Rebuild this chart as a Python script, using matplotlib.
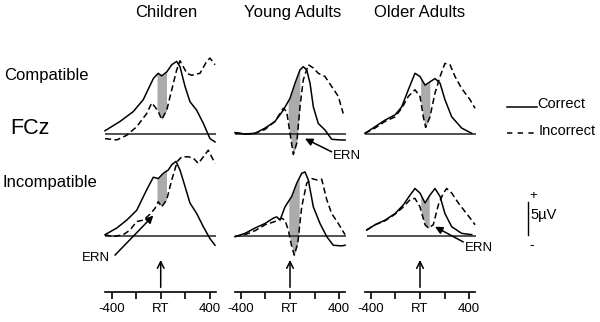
import numpy as np
import matplotlib
matplotlib.use("Agg")
import matplotlib.pyplot as plt
from matplotlib.lines import Line2D

plt.rcParams['font.family'] = ['Liberation Sans', 'DejaVu Sans']

# ---------------- data (ms relative to response, µV) ----------------
groups = ["Children", "Young Adults", "Older Adults"]
conditions = ["Compatible", "Incompatible"]
tick_values = [-400, -200, 0, 200, 400]
tick_labels = ["-400", "", "RT", "", "400"]

# Children, compatible
ch_comp_t_cor = [-453, -331, -223, -142, -60, -20, 8, 49, 90, 130, 157, 198, 238, 293, 347, 401, 442]
ch_comp_v_cor = [0.5, 1.9, 3.4, 5.2, 8.4, 9.2, 8.8, 9.4, 10.5, 11.0, 10.2, 7.2, 4.9, 3.6, 1.6, -0.7, -1.2]
ch_comp_t_inc = [-453, -358, -277, -195, -114, -73, -46, -20, 8, 49, 90, 130, 157, 184, 212, 252, 320, 374, 401, 442]
ch_comp_v_inc = [-0.7, -0.9, -0.2, 1.1, 3.1, 4.7, 4.1, 3.4, 2.2, 3.6, 6.7, 9.7, 11.1, 10.2, 9.2, 8.9, 9.2, 11.0, 11.5, 10.5]

# Young adults, compatible
ya_comp_t_cor = [-448, -366, -285, -203, -122, -55, 0, 41, 81, 108, 136, 163, 190, 230, 285, 339, 407, 448]
ya_comp_v_cor = [0.2, 0.0, 0.1, 0.9, 1.9, 3.6, 5.4, 7.7, 9.7, 10.2, 9.7, 7.7, 4.1, 1.6, 0.6, -0.8, -0.9, -0.9]
ya_comp_t_inc = [-448, -366, -285, -203, -122, -55, -27, 0, 27, 55, 81, 108, 149, 190, 230, 285, 339, 393, 433]
ya_comp_v_inc = [0.2, 0.0, 0.1, 0.7, 1.9, 3.9, 3.4, 0.1, -3.1, -1.4, 4.1, 8.2, 10.5, 10.0, 9.2, 8.7, 7.2, 5.7, 3.1]

# Older adults, compatible
oa_comp_t_cor = [-448, -366, -285, -203, -149, -95, -41, 0, 41, 81, 122, 163, 203, 258, 339, 421]
oa_comp_v_cor = [0.1, 1.1, 2.1, 2.9, 4.1, 6.7, 9.2, 8.7, 7.4, 7.9, 8.4, 7.7, 5.2, 2.6, 0.9, 0.1]
oa_comp_t_inc = [-448, -366, -285, -203, -149, -95, -41, 0, 27, 46, 81, 122, 163, 203, 244, 285, 339, 407, 448]
oa_comp_v_inc = [0.1, 0.9, 1.9, 2.6, 3.9, 5.7, 6.7, 5.7, 2.6, 1.0, 2.6, 6.2, 8.7, 10.7, 10.5, 8.7, 6.9, 5.2, 3.9]

# Children, incompatible
ch_inc_t_cor = [-453, -358, -277, -195, -114, -60, -20, 21, 62, 90, 124, 157, 198, 238, 293, 347, 401, 442]
ch_inc_v_cor = [0.2, 1.2, 2.4, 3.9, 7.0, 8.9, 8.7, 9.5, 10.0, 10.8, 11.3, 10.0, 7.5, 5.0, 3.4, 1.4, -0.4, -1.4]
ch_inc_t_inc = [-453, -386, -304, -250, -195, -142, -87, -46, -20, 8, 49, 90, 135, 171, 225, 265, 306, 347, 387, 442]
ch_inc_v_inc = [0.2, -0.1, 0.2, 0.9, 2.2, 2.4, 3.3, 4.2, 5.2, 4.4, 5.5, 8.5, 11.3, 12.0, 12.0, 11.8, 11.0, 12.0, 13.0, 11.0]

# Young adults, incompatible
ya_inc_t_cor = [-448, -366, -285, -203, -136, -108, -81, -41, 14, 55, 95, 122, 149, 190, 244, 299, 352, 420, 448]
ya_inc_v_cor = [-0.1, 0.4, 1.2, 1.9, 2.7, 2.9, 2.4, 4.4, 6.0, 8.0, 9.5, 9.7, 8.5, 4.4, 1.9, -0.1, -1.4, -1.5, -1.4]
ya_inc_t_inc = [-448, -366, -285, -203, -122, -68, -41, -14, 14, 35, 63, 95, 136, 177, 217, 258, 299, 339, 393, 448]
ya_inc_v_inc = [-0.1, 0.2, 0.8, 1.7, 2.2, 2.7, 2.4, 0.9, -1.6, -2.9, -1.1, 4.4, 8.0, 8.7, 8.5, 8.6, 5.5, 3.4, 1.9, 0.2]

# Older adults, incompatible
oa_inc_t_cor = [-434, -366, -285, -203, -136, -81, -41, 0, 41, 81, 122, 163, 203, 258, 339, 421]
oa_inc_v_cor = [0.9, 1.7, 2.4, 3.4, 4.7, 6.2, 7.2, 6.5, 5.0, 6.2, 7.2, 6.0, 3.4, 1.4, 0.4, 0.2]
oa_inc_t_inc = [-434, -366, -285, -203, -136, -81, -41, 0, 41, 68, 108, 149, 190, 217, 258, 312, 366, 421, 448]
oa_inc_v_inc = [0.9, 1.7, 2.3, 3.3, 4.4, 5.5, 5.7, 4.4, 1.7, 1.2, 1.7, 4.7, 6.5, 7.2, 6.5, 5.0, 3.7, 2.4, 1.7]

# ERN shaded windows (ms) per condition row / group column
shade_start = [[-30, -15, 5], [-30, -10, 5]]
shade_end = [[47, 80, 80], [47, 75, 75]]

panels = [
    [(ch_comp_t_cor, ch_comp_v_cor, ch_comp_t_inc, ch_comp_v_inc),
     (ya_comp_t_cor, ya_comp_v_cor, ya_comp_t_inc, ya_comp_v_inc),
     (oa_comp_t_cor, oa_comp_v_cor, oa_comp_t_inc, oa_comp_v_inc)],
    [(ch_inc_t_cor, ch_inc_v_cor, ch_inc_t_inc, ch_inc_v_inc),
     (ya_inc_t_cor, ya_inc_v_cor, ya_inc_t_inc, ya_inc_v_inc),
     (oa_inc_t_cor, oa_inc_v_cor, oa_inc_t_inc, oa_inc_v_inc)],
]

# ---------------- layout (pixels) ----------------
W, H = 600, 322
fig = plt.figure(figsize=(W / 100, H / 100), dpi=100)
fig.patch.set_facecolor('white')

def box(left, top, width, height):
    return [left / W, 1 - (top + height) / H, width / W, height / H]

px_per_ms = 0.1229
px_per_uv = 6.6
col_zero = [160.7, 290.0, 420.0]
row_base = [134.0, 236.0]
ylo, yhi = -7, 14
xlo, xhi = -500, 500

dash = (0, (4.0, 2.2))
lw = 1.1
axes = [[None] * 3 for _ in range(2)]
for r in range(2):
    for c in range(3):
        left = col_zero[c] + xlo * px_per_ms
        top = row_base[r] - yhi * px_per_uv
        ax = fig.add_axes(box(left, top, (xhi - xlo) * px_per_ms, (yhi - ylo) * px_per_uv))
        ax.set_xlim(xlo, xhi)
        ax.set_ylim(ylo, yhi)
        ax.axis('off')
        ax.patch.set_alpha(0)
        tc, vc, ti, vi = [np.asarray(a, float) for a in panels[r][c]]
        # shaded ERN window between the two curves
        lo, hi = shade_start[r][c], shade_end[r][c]
        g = np.union1d(tc, ti)
        g = np.concatenate([[lo], g[(g > lo) & (g < hi)], [hi]])
        ax.fill_between(g, np.interp(g, tc, vc), np.interp(g, ti, vi),
                        color='#ababab', lw=0, zorder=1)
        tmin = min(tc.min(), ti.min())
        tmax = max(tc.max(), ti.max())
        ax.hlines(0, tmin, tmax + 10, color='#333333', lw=1.2, zorder=2)
        ax.plot(tc, vc, color='black', lw=lw, zorder=3, clip_on=False)
        ax.plot(ti, vi, color='black', lw=lw, ls=dash, zorder=3, clip_on=False)
        axes[r][c] = ax

# ERN arrows
arrow_kw = dict(arrowstyle='-|>', color='black', lw=1.1, mutation_scale=11,
                shrinkA=0, shrinkB=0)
ax = axes[1][0]
ax.annotate('', xy=(-60, 3.1), xytext=(-372, -2.9), arrowprops=arrow_kw, annotation_clip=False)
ax.text(-412, -3.3, 'ERN', ha='right', va='center', fontsize=9.5)
ax = axes[0][1]
ax.annotate('', xy=(122, -0.7), xytext=(339, -2.7), arrowprops=arrow_kw, annotation_clip=False)
ax.text(352, -3.4, 'ERN', ha='left', va='center', fontsize=9.5)
ax = axes[1][2]
ax.annotate('', xy=(122, 1.4), xytext=(352, -0.9), arrowprops=arrow_kw, annotation_clip=False)
ax.text(366, -1.75, 'ERN', ha='left', va='center', fontsize=9.5)

# 5 µV scale bar drawn in data units of the lower-right panel
ax = axes[1][2]
ax.plot([876, 876], [0.15, 5.15], color='black', lw=1.0, clip_on=False)

# time axes
for c in range(3):
    left = col_zero[c] - 450 * px_per_ms
    tax = fig.add_axes(box(left, 250, 900 * px_per_ms, 41.5))
    tax.set_xlim(-450, 450)
    tax.set_ylim(0, 1)
    tax.patch.set_alpha(0)
    for s in ['top', 'left', 'right']:
        tax.spines[s].set_visible(False)
    tax.spines['bottom'].set_linewidth(1.2)
    tax.set_yticks([])
    tax.set_xticks(tick_values)
    tax.set_xticklabels(tick_labels, fontsize=9.5)
    tax.tick_params(axis='x', direction='out', length=5, width=1.2, pad=3)
    tax.annotate('', xy=(0, 0.76), xytext=(0, 0.1),
                 arrowprops=dict(arrowstyle='->', color='black', lw=1.1,
                                 mutation_scale=12, shrinkA=0, shrinkB=0))

# texts
def ftext(x, y, s, **kw):
    fig.text(x / W, 1 - y / H, s, **kw)

title_x = [166, 293, 420]
for name, x in zip(groups, title_x):
    ftext(x, 12.5, name, ha='center', va='center', fontsize=12)
ftext(4, 75, conditions[0], ha='left', va='center', fontsize=12)
ftext(3, 183, conditions[1], ha='left', va='center', fontsize=12)
ftext(10, 129, 'FCz', ha='left', va='center', fontsize=15.5)

# legend
fig.add_artist(Line2D([506.7 / W, 536.5 / W], [1 - 106.7 / H] * 2, color='black', lw=1.1))
fig.add_artist(Line2D([506.7 / W, 534 / W], [1 - 133.3 / H] * 2, color='black', lw=1.1,
                      ls=(0, (3.5, 3.5))))
ftext(537.5, 107.5, 'Correct', ha='left', va='baseline', fontsize=10.5)
ftext(538.5, 135.5, 'Incorrect', ha='left', va='baseline', fontsize=10.5)

# scale bar labels
ftext(533.3, 195.5, '+', ha='center', va='center', fontsize=9.5)
ftext(530.5, 215, '5µV', ha='left', va='center', fontsize=10.5)
ftext(531.7, 245, '-', ha='center', va='center', fontsize=10)

fig.savefig('out.png', dpi=100, facecolor='white')
